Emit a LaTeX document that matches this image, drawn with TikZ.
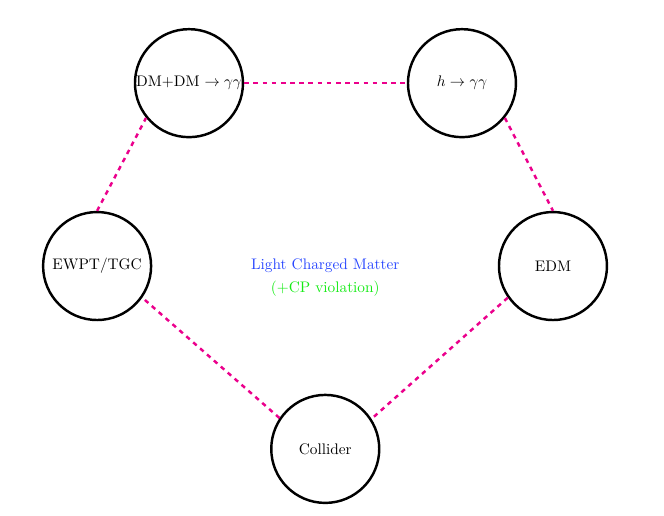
\documentclass[tikz,border=0pt]{standalone}
\definecolor{linkPink}{RGB}{235,0,140}
\definecolor{lcmBlue}{RGB}{40,70,255}
\definecolor{cpGreen}{RGB}{20,235,20}

\begin{document}
\begin{tikzpicture}[
      probe/.style={circle, draw=black, line width=1.6pt,
                    minimum size=2.48cm, inner sep=0pt},
      link/.style={draw=linkPink, dashed, line width=1.6pt}]
      \useasboundingbox (0,0) rectangle (15.25,11.83);
      \node[probe] (dm) at (4.34,9.92) {DM+DM $\to\gamma\gamma$};
      \node[probe] (higgs) at (10.61,9.92) {$h\to\gamma\gamma$};
      \node[probe] (ewpt) at (2.23,5.72) {EWPT/TGC};
      \node[probe] (edm) at (12.70,5.72) {EDM};
      \node[probe] (coll) at (7.47,1.52) {Collider};
      \node[text=lcmBlue] (lcm) at (7.47,5.72) {Light Charged Matter};
      \node[text=cpGreen] (cpv) at (7.47,5.19) {(+CP violation)};
      \draw[link] (dm.east) -- (higgs.west);
      \draw[link] (higgs.321) -- (edm.north);
      \draw[link] (edm.215) -- (coll.33);
      \draw[link] (coll.146) -- (ewpt.-35);
      \draw[link] (ewpt.north) -- (dm.219);
    \end{tikzpicture}
\end{document}
